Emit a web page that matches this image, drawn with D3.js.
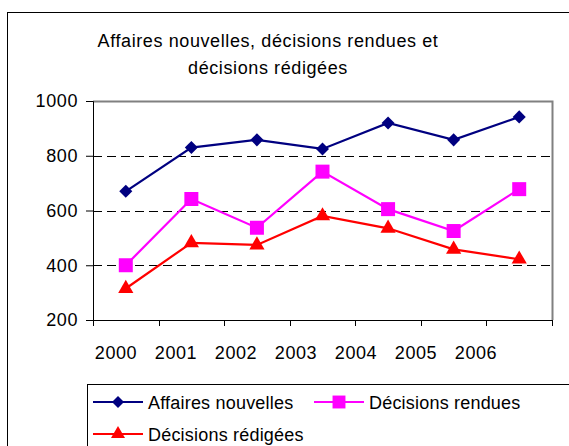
<!DOCTYPE html>
<html>
<head>
<meta charset="utf-8">
<script src="https://cdn.jsdelivr.net/npm/d3@7"></script>
<style>
  body { margin: 0; background: #fff; }
  svg { display: block; font-family: "Liberation Sans", Arial, sans-serif; }
  text { letter-spacing: 0.6px; }
  .legend-label { letter-spacing: 0.2px; }
</style>
</head>
<body>
<svg id="chart" width="569" height="446"></svg>
<script>
// chart data
const years = ['2000', '2001', '2002', '2003', '2004', '2005', '2006'];
const affairesNouvelles = [670, 830, 858, 825, 920, 858, 942];
const decisionsRendues = [400, 642, 537, 742, 605, 525, 678];
const decisionsRedigees = [315, 482, 474, 580, 535, 458, 422];
const yTicks = [200, 400, 600, 800, 1000];
const gridValues = [400, 600, 800];
const titleLines = ['Affaires nouvelles, décisions rendues et', 'décisions rédigées'];

const series = [
  {name: 'Affaires nouvelles', values: affairesNouvelles, color: '#000080', symbol: d3.symbolSquare, size: 85, rotate: 45},
  {name: 'Décisions rendues', values: decisionsRendues, color: '#ff00ff', symbol: d3.symbolSquare, size: 196, rotate: 0},
  {name: 'Décisions rédigées', values: decisionsRedigees, color: '#ff0000', symbol: d3.symbolTriangle, size: 100, rotate: 0}
];

const plot = {left: 93, top: 101, right: 552, bottom: 320};
const fontSize = 18;
const svg = d3.select('#chart');

// outer chart frame
svg.append('rect')
    .attr('x', 7.5).attr('y', 12.5)
    .attr('width', 700).attr('height', 600)
    .attr('fill', '#fff').attr('stroke', '#000');

// title
svg.append('g').selectAll('text')
    .data(titleLines)
  .join('text')
    .attr('x', 268)
    .attr('y', (d, i) => 47 + i * 26.5)
    .attr('text-anchor', 'middle')
    .attr('font-size', fontSize)
    .text(d => d);

const xScale = d3.scaleBand().domain(years).range([plot.left, plot.right]);
const yScale = d3.scaleLinear().domain([200, 1000]).range([plot.bottom, plot.top]);
const labelScale = d3.scalePoint().domain(years).range([116, 476]);

// plot area border (gray top/right)
svg.append('path')
    .attr('d', `M${plot.left},${plot.top + 0.5}H${plot.right + 0.5}V${plot.bottom}`)
    .attr('fill', 'none').attr('stroke', '#808080').attr('stroke-width', 2);

// dashed gridlines
svg.append('g').selectAll('line')
    .data(gridValues)
  .join('line')
    .attr('x1', plot.left).attr('x2', plot.right)
    .attr('y1', d => Math.round(yScale(d)) + 0.5)
    .attr('y2', d => Math.round(yScale(d)) + 0.5)
    .attr('stroke', '#000')
    .attr('stroke-dasharray', '9,5');

// y axis
const yAxis = d3.axisLeft(yScale).tickValues(yTicks).tickSize(7).tickPadding(8).tickFormat(d3.format('d'));
const yAxisG = svg.append('g')
    .attr('transform', `translate(${plot.left},0)`)
    .call(yAxis);
yAxisG.select('.domain').attr('stroke', '#000');
yAxisG.selectAll('text')
    .attr('font-size', fontSize)
    .attr('font-family', '"Liberation Sans", Arial, sans-serif')
    .attr('fill', '#000');

// x axis: ticks at category boundaries
const boundaries = years.map(y => xScale(y)).concat([plot.right]);
svg.append('line')
    .attr('x1', plot.left).attr('x2', plot.right)
    .attr('y1', plot.bottom + 0.5).attr('y2', plot.bottom + 0.5)
    .attr('stroke', '#000');
svg.append('g').selectAll('line')
    .data(boundaries)
  .join('line')
    .attr('x1', d => Math.round(d) + 0.5).attr('x2', d => Math.round(d) + 0.5)
    .attr('y1', plot.bottom).attr('y2', plot.bottom + 6)
    .attr('stroke', '#000');

svg.append('g').selectAll('text')
    .data(years)
  .join('text')
    .attr('x', d => labelScale(d))
    .attr('y', 359)
    .attr('text-anchor', 'middle')
    .attr('font-size', fontSize)
    .text(d => d);

// series lines and markers
const line = d3.line()
    .x((d, i) => xScale(years[i]) + xScale.bandwidth() / 2)
    .y(d => yScale(d));

series.forEach(s => {
  svg.append('path')
      .datum(s.values)
      .attr('d', line)
      .attr('fill', 'none')
      .attr('stroke', s.color)
      .attr('stroke-width', 2.2);
  svg.append('g').selectAll('path')
      .data(s.values)
    .join('path')
      .attr('transform', (d, i) => `translate(${xScale(years[i]) + xScale.bandwidth() / 2},${yScale(d)}) rotate(${s.rotate})`)
      .attr('d', d3.symbol(s.symbol, s.size))
      .attr('fill', s.color);
});

// legend
svg.append('rect')
    .attr('x', 87.5).attr('y', 384.5)
    .attr('width', 600).attr('height', 100)
    .attr('fill', '#fff').attr('stroke', '#000');

const legendPos = [{x: 93, y: 402}, {x: 314, y: 402}, {x: 93, y: 434}];
const legend = svg.append('g').selectAll('g')
    .data(series)
  .join('g')
    .attr('transform', (d, i) => `translate(${legendPos[i].x},${legendPos[i].y})`);
legend.append('line')
    .attr('x1', 0).attr('x2', 50)
    .attr('stroke', d => d.color).attr('stroke-width', 2.2);
legend.append('path')
    .attr('transform', d => `translate(25,0) rotate(${d.rotate})`)
    .attr('d', d => d3.symbol(d.symbol, d.size * 0.85)())
    .attr('fill', d => d.color);
legend.append('text')
    .attr('class', 'legend-label')
    .attr('x', 55).attr('y', 6.5)
    .attr('font-size', fontSize)
    .text(d => d.name);
</script>
</body>
</html>
